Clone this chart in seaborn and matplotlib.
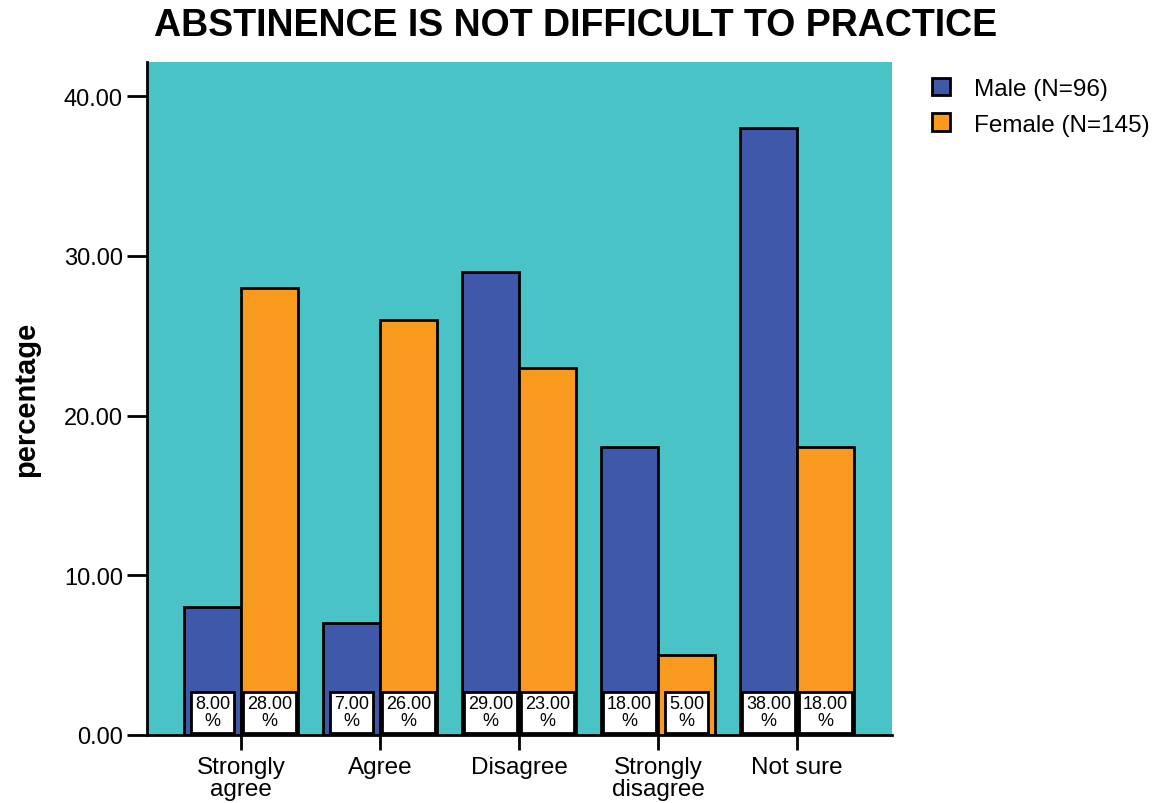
import matplotlib
matplotlib.use("Agg")
import matplotlib.pyplot as plt
import seaborn as sns
import pandas as pd
from matplotlib.patches import Patch

categories = ["Strongly\nagree", "Agree", "Disagree", "Strongly\ndisagree", "Not sure"]
groups = ["Male (N=96)", "Female (N=145)"]
male_pct = [8.00, 7.00, 29.00, 18.00, 38.00]
female_pct = [28.00, 26.00, 23.00, 5.00, 18.00]
y_ticks = [0, 10, 20, 30, 40]

df = pd.DataFrame({
    "response": categories * 2,
    "group": [groups[0]] * len(categories) + [groups[1]] * len(categories),
    "percentage": male_pct + female_pct,
})

sns.set_style("white")
plt.rcParams["font.family"] = ["Liberation Sans", "DejaVu Sans"]
plt.rcParams.update({
    "text.color": "black",
    "axes.labelcolor": "black",
    "xtick.color": "black",
    "ytick.color": "black",
})

colors = ["#3F58AA", "#F89A1E"]
bg = "#4AC3C7"

fig = plt.figure(figsize=(11.58, 8.04), dpi=100)
ax = fig.add_axes([0.127, 0.0846, 0.643, 0.837])
ax.set_facecolor(bg)

sns.barplot(data=df, x="response", y="percentage", hue="group",
            hue_order=groups, order=categories, palette=colors,
            width=0.82, edgecolor="black", linewidth=2, saturation=1,
            errorbar=None, ax=ax, legend=False)

# value boxes at the foot of each bar
for container, vals in zip(ax.containers, [male_pct, female_pct]):
    for bar, v in zip(container, vals):
        ax.annotate(f"{v:.2f}\n%",
                    xy=(bar.get_x() + bar.get_width() / 2, 0),
                    xytext=(0, 4.0), textcoords="offset points",
                    ha="center", va="bottom", fontsize=13, linespacing=1.0,
                    bbox=dict(boxstyle="square,pad=0.2", fc="white",
                              ec="black", lw=2),
                    zorder=5, annotation_clip=False)

ax.set_xlim(-0.676, 4.68)
ax.set_ylim(0, 42.13)
ax.set_yticks(y_ticks)
ax.set_yticklabels([f"{t:.2f}" for t in y_ticks], fontsize=17)
ax.tick_params(axis="y", length=14.5, width=2, direction="out", pad=3,
               left=True)
ax.tick_params(axis="x", length=11, width=2, direction="out", pad=4,
               bottom=True, labelsize=17.5)
for lab in ax.get_xticklabels():
    lab.set_linespacing(1.0)

for side in ["top", "right"]:
    ax.spines[side].set_visible(False)
for side in ["left", "bottom"]:
    ax.spines[side].set_linewidth(2)
    ax.spines[side].set_color("black")

ax.set_xlabel("")
ax.set_ylabel("percentage", fontsize=21, fontweight="bold", labelpad=17)

handles = [Patch(facecolor=c, edgecolor="black", linewidth=2) for c in colors]
ax.legend(handles, groups, loc="upper left", bbox_to_anchor=(1.054, 0.977),
          frameon=False, fontsize=17.5, handlelength=0.75, handleheight=0.75,
          handletextpad=1.0, borderpad=0, borderaxespad=0, labelspacing=0.55)

fig.text(0.497, 0.99, "ABSTINENCE IS NOT DIFFICULT TO PRACTICE",
         ha="center", va="top", fontsize=27, fontweight="bold")

fig.savefig("out.png", dpi=100)
